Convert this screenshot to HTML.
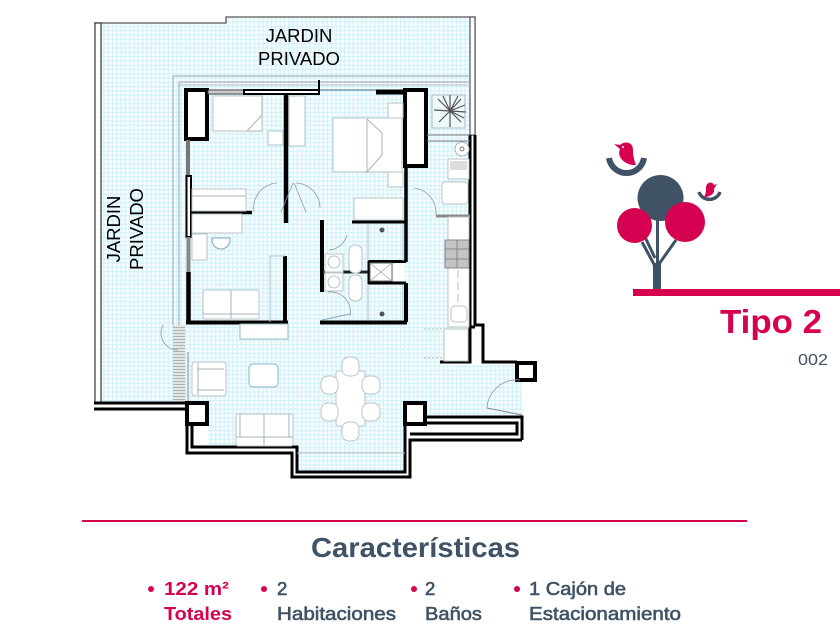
<!DOCTYPE html>
<html><head><meta charset="utf-8"><style>
html,body{margin:0;padding:0;background:#fff;width:840px;height:630px;overflow:hidden}
svg{display:block}
text{font-family:"Liberation Sans",sans-serif}
.b{fill:#fff;stroke:#000;stroke-width:4}
.w{fill:none;stroke:#000;stroke-width:3}
.g{fill:#fff;stroke:#b8c4c8;stroke-width:1}
.n{fill:none;stroke:#aab4b8;stroke-width:1}
.h{fill:#3f5266;font-weight:700}
.p{fill:#d5004f;font-weight:700}
</style></head><body>
<svg width="840" height="630" viewBox="0 0 840 630" xmlns="http://www.w3.org/2000/svg">
<defs><pattern id="grid" width="4.3" height="4.3" patternUnits="userSpaceOnUse">
<rect width="4.3" height="4.3" fill="#d3f2fc"/><rect x="1.3" y="1.3" width="3" height="3" fill="#fbfeff"/></pattern>
<pattern id="hat" width="12" height="3" patternUnits="userSpaceOnUse"><rect width="12" height="3" fill="#e2e6e7"/><rect y="0" width="12" height="1" fill="#aab2b4"/></pattern></defs>
<rect width="840" height="630" fill="#fff"/>
<!-- floor fill -->
<polygon fill="url(#grid)" points="100,23 226,23 226,18 470,18 470,362 440,362 440,365 522,365 522,415 405,415 405,472 297,472 297,447 208,447 208,425 186,425 186,402 100,402"/>
<!-- garden outline -->
<path d="M94,23H226V17H475V135" fill="none" stroke="#555" stroke-width="1.3"/>
<rect x="95" y="23" width="6" height="380" fill="#fff" stroke="#444" stroke-width="1.3"/>
<rect x="470" y="17" width="5" height="118" fill="#fff" stroke="#555" stroke-width="1.2"/>
<path d="M173,76H470M179,82H470M173,76V325M179,82V325" fill="none" stroke="#aab4b8" stroke-width="1.2"/>
<path d="M179,85H470" stroke="#bbb" stroke-width="1"/>
<rect x="173" y="325" width="12" height="78" fill="url(#hat)"/>
<path d="M188,352V402" stroke="#888" stroke-width="1"/>
<!-- columns -->
<rect class="b" x="186" y="90" width="21" height="49"/>
<rect class="b" x="405" y="90" width="21" height="76"/>
<rect class="b" x="187" y="403" width="20" height="21"/>
<rect class="b" x="405" y="403" width="20" height="21"/>
<rect class="b" x="517" y="363" width="18" height="17"/>
<!-- upper walls -->
<rect x="208" y="90" width="36" height="4" fill="#ccc" stroke="#444" stroke-width="1"/>
<rect x="244" y="90" width="75" height="4" fill="#fff" stroke="#000" stroke-width="2"/>
<path d="M376,92H403" stroke="#000" stroke-width="5"/>
<path d="M320,90H376" stroke="#6a8a98" stroke-width="1.2"/>
<path d="M319,80V92" stroke="#000" stroke-width="2"/>
<path d="M286,94V223" stroke="#000" stroke-width="4.500"/>
<path d="M188,140V176" stroke="#777" stroke-width="4"/>
<rect x="186.500" y="176" width="4.500" height="61" fill="#fff" stroke="#000" stroke-width="2"/>
<path d="M188.500,237V272" stroke="#888" stroke-width="4"/>
<path d="M188.500,272V322" stroke="#000" stroke-width="4.500"/>
<path d="M191,212.500H252" stroke="#000" stroke-width="3.500"/>
<path d="M186,322.500H288" stroke="#000" stroke-width="4"/>
<path d="M285,256V322" stroke="#000" stroke-width="4"/>
<path d="M322,220V292" stroke="#000" stroke-width="4"/>
<path d="M320,322.500H407" stroke="#000" stroke-width="4"/>
<path d="M406,283V322" stroke="#000" stroke-width="4"/>
<path d="M406,166V262" stroke="#000" stroke-width="3.500"/>
<path d="M352,222H406" stroke="#000" stroke-width="3"/>
<path d="M368,261.500H406M368,283H406M369,261V284" stroke="#000" stroke-width="3" fill="none"/>
<path d="M323,272H368" stroke="#222" stroke-width="3"/>
<rect x="370" y="263" width="22" height="18" fill="#fff" stroke="#666" stroke-width="1"/>
<path d="M370,263L392,281M392,263L370,281" stroke="#aaa" stroke-width=".8"/>
<rect x="394" y="263" width="11" height="18" fill="#fff"/>
<!-- right wall -->
<path d="M470,135V327H475M475,135V325H483V362H517M470,327V362H440" stroke="#000" stroke-width="3" fill="none"/>
<path d="M427,135H470M427,141H470" stroke="#777" stroke-width="1"/>
<path d="M436,216H470" stroke="#888" stroke-width="3"/>
<!-- lower walls -->
<path d="M94,403H187M94,409H187" stroke="#000" stroke-width="3"/>
<path d="M187,425V453H292V477H410V440H522" class="w"/>
<path d="M192,425V447H297V472H405V425" class="w"/>
<path d="M426,417H522V440M410,434H517V423H426" class="w"/>
<path d="M297,453H405" stroke="#bbb" stroke-width="1"/>
<!-- beds etc. -->
<path class="g" d="M213,96H262V131H213Z M268,131H283V145H268Z"/>
<path class="n" d="M262,96V115L247,131H262"/>
<rect class="g" x="289" y="96" width="16" height="50"/>
<rect class="g" x="333" y="118" width="69" height="54"/>
<path class="n" d="M367,119L382,133V155L367,172V119"/>
<rect class="g" x="388" y="103" width="15" height="15"/>
<rect class="g" x="388" y="172" width="15" height="15"/>
<!-- desks, closets -->
<rect class="g" x="192" y="189" width="54" height="22"/>
<path class="n" d="M192,196H246"/>
<rect class="g" x="192" y="214" width="50" height="19"/>
<rect class="g" x="192" y="234" width="15" height="26"/>
<rect class="g" x="354" y="198" width="49" height="22"/>
<!-- palm -->
<rect x="432" y="95" width="33" height="33" fill="#eef9fc" stroke="#9ab" stroke-width=".8"/>
<g stroke="#555" stroke-width="1.2">
<path d="M450,111L450,95M450,111L461,99M450,111L466,112M450,111L461,122M450,111L450,127M450,111L439,122M450,111L434,110M450,111L438,99M450,111L443,96M450,111L458,96M450,111L465,105M450,111L464,118"/></g>
<!-- kitchen -->
<circle cx="462" cy="149" r="7" fill="#fff" stroke="#aab"/><circle cx="462" cy="149" r="2" fill="none" stroke="#777"/>
<rect class="g" x="448" y="159" width="21" height="20"/>
<rect x="450" y="161" width="17" height="9" fill="#ddd"/>
<rect class="g" x="442" y="182" width="26" height="22" rx="3"/>
<rect x="448" y="217" width="21" height="110" fill="#fff" stroke="#b8c4c8"/>
<rect x="445" y="240" width="24" height="28" fill="#c4c4c4" stroke="#888"/>
<path d="M445,249H469M445,259H469M457,240V268" stroke="#777" stroke-width=".8"/>
<path d="M458,270V305" stroke="#bbb" stroke-dasharray="8 4"/>
<rect class="g" x="451" y="306" width="16" height="16" rx="4"/>
<rect class="g" x="444" y="329" width="24" height="32"/>
<path d="M424,329H443M424,358H443" stroke="#bbb" stroke-dasharray="2 2"/>
<!-- bath -->
<rect class="g" x="325" y="254" width="18" height="18"/>
<rect class="g" x="325" y="273" width="18" height="18"/>
<circle cx="334" cy="262" r="6" class="g"/><circle cx="334" cy="282" r="6" class="g"/>
<rect class="g" x="349" y="245" width="13" height="28" rx="6"/>
<rect class="g" x="349" y="275" width="13" height="26" rx="6"/>
<path d="M368,224V261M403,224V261M368,285V320M403,285V320" stroke="#bbb" fill="none"/>
<circle cx="382" cy="230" r="2.500" fill="#555"/><circle cx="382" cy="314" r="2.500" fill="#555"/>
<!-- desk chair -->
<path d="M212,240A9,9 0 0 0 230,240V238H212Z" fill="#fff" stroke="#7fa8b8"/>
<!-- sofa upper -->
<rect class="g" x="203" y="290" width="56" height="29" rx="2"/>
<path class="n" d="M231,290V319M203,314H259"/>
<path d="M270,322V256H285" fill="none" stroke="#b8c4c8"/>
<rect x="240" y="324" width="48" height="15" fill="#fff" stroke="#9bb"/>
<!-- doors -->
<path d="M277,183A25,25 0 0 0 254,212M293,183L281,212M294,183L306,212M296,183A25,25 0 0 1 320,208M414,188A25,25 0 0 1 436,215M347,235A20,20 0 0 1 329,250M328,292A20,20 0 0 1 350,316M163,325A17,17 0 0 0 178,350M520,380A30,30 0 0 0 487,408" fill="none" stroke="#999" stroke-width=".8"/>
<path d="M487,408L522,415" stroke="#888"/>
<path d="M322,320L350,314" stroke="#7fa8b8"/>
<!-- armchair -->
<rect class="g" x="192" y="362" width="34" height="34" rx="3"/>
<path class="n" d="M198,363V395M197,369H224M197,390H224"/>
<rect x="249" y="364" width="29" height="23" rx="4" fill="#fff" stroke="#8fb0c0"/>
<!-- sofa lower -->
<rect class="g" x="236" y="414" width="57" height="32" rx="2"/>
<path class="n" d="M264,414V446M236,437H293M240,414V437M289,414V437"/>
<!-- dining -->
<g class="g">
<rect x="336" y="371" width="29" height="55" rx="2"/>
<rect x="342" y="357" width="17" height="19" rx="7"/>
<rect x="342" y="422" width="17" height="19" rx="7"/>
<rect x="321" y="376" width="17" height="18" rx="7"/><rect x="321" y="403" width="17" height="18" rx="7"/>
<rect x="362" y="376" width="18" height="18" rx="7"/><rect x="362" y="403" width="18" height="18" rx="7"/>
</g>
<!-- garden labels -->
<text x="299" y="42" font-size="18.500" text-anchor="middle" fill="#000">JARDIN</text>
<text x="299" y="65" font-size="18.500" text-anchor="middle" fill="#000">PRIVADO</text>
<text transform="translate(120,229) rotate(-90)" font-size="18.500" text-anchor="middle" fill="#000">JARDIN</text>
<text transform="translate(143,229) rotate(-90)" font-size="18.500" text-anchor="middle" fill="#000">PRIVADO</text>
<!-- logo -->
<rect x="653" y="263" width="8" height="27" fill="#3f5266"/>
<rect x="656" y="220" width="3" height="45" fill="#3f5266"/>
<path d="M656,268L642,242M655,258L645,237M659,264L676,240" stroke="#3f5266" stroke-width="3" fill="none"/>
<circle cx="660.500" cy="198" r="23" fill="#3f5266"/>
<circle cx="634.500" cy="225.500" r="17.500" fill="#d5004f"/>
<circle cx="685" cy="222" r="20" fill="#d5004f"/>
<rect x="633" y="289" width="207" height="7" fill="#d5004f"/>
<path d="M609,158A17.700,17.700 0 0 0 644,158" fill="none" stroke="#3f5266" stroke-width="6"/>
<path d="M699,192A11,10.500 0 0 0 720,192" fill="none" stroke="#3f5266" stroke-width="3.500"/>
<path d="M614,144L620,145C624,141 633,141 633,150C633,156 634,160 636,165C627,166 616,158 620,149Z" fill="#d5004f"/>
<circle cx="623" cy="147" r="1" fill="#fff"/>
<path d="M717,184L714,185C712,181 707,182 706,187C706,191 706,194 704,197C711,197 715,193 714,189Z" fill="#d5004f"/>
<!-- right labels -->
<text class="p" x="720" y="333" font-size="33" textLength="102" lengthAdjust="spacingAndGlyphs">Tipo 2</text>
<text x="798" y="365" font-size="16" fill="#3f5266" textLength="30" lengthAdjust="spacingAndGlyphs">002</text>
<rect x="82" y="520" width="665" height="2" fill="#d5004f"/>
<text class="h" x="311" y="557" font-size="28" textLength="209" lengthAdjust="spacingAndGlyphs">Características</text>
<circle cx="151" cy="589" r="3" fill="#d5004f"/><circle cx="264" cy="589" r="3" fill="#d5004f"/>
<circle cx="414" cy="589" r="3" fill="#d5004f"/><circle cx="517" cy="589" r="3" fill="#d5004f"/>
<text class="p" x="164" y="595" font-size="18.500" textLength="65" lengthAdjust="spacingAndGlyphs">122 m²</text>
<text class="p" x="164" y="620" font-size="18.500" textLength="68" lengthAdjust="spacingAndGlyphs">Totales</text>
<g fill="#3f5266" font-size="18.500" stroke="#3f5266" stroke-width=".6">
<text x="277" y="595">2</text>
<text x="277" y="620" textLength="119" lengthAdjust="spacingAndGlyphs">Habitaciones</text>
<text x="425" y="595">2</text>
<text x="425" y="620" textLength="57" lengthAdjust="spacingAndGlyphs">Baños</text>
<text x="529" y="595" textLength="97" lengthAdjust="spacingAndGlyphs">1 Cajón de</text>
<text x="529" y="620" textLength="152" lengthAdjust="spacingAndGlyphs">Estacionamiento</text>
</g>
</svg>
</body></html>
